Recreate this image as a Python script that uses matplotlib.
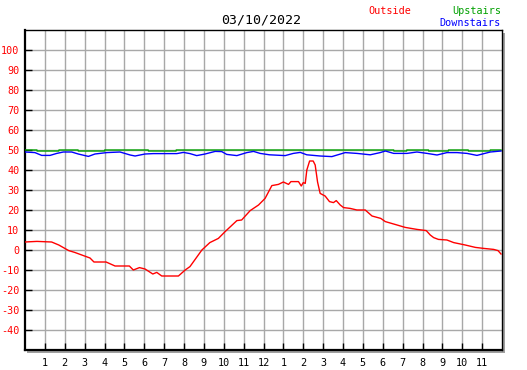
import matplotlib
matplotlib.use("Agg")
import matplotlib.pyplot as plt
from matplotlib.patches import Rectangle

# outside temperature (hour, value)
out_hours = [0.0, 0.6, 1.34, 1.7, 2.2, 2.5, 2.94, 3.27, 3.47, 4.08, 4.53, 5.25, 5.45,
             5.76, 6.04, 6.43, 6.63, 6.88, 7.72, 8.06, 8.3, 8.9, 9.3, 9.73, 10.07,
             10.66, 10.9, 11.33, 11.75, 12.08, 12.42, 12.75, 13.0, 13.26, 13.38,
             13.76, 13.9, 14.0, 14.1, 14.18, 14.32, 14.5, 14.6, 14.72, 14.85, 15.1,
             15.32, 15.52, 15.66, 15.86, 16.03, 16.36, 16.7, 17.12, 17.46, 17.9,
             18.13, 18.72, 19.13, 19.72, 20.19, 20.39, 20.56, 20.8, 21.23, 21.57,
             22.15, 22.66, 23.08, 23.58, 23.8, 23.95]
out_vals = [4, 4.3, 4, 2.5, -0.3, -1.2, -2.8, -4, -6, -6, -8, -8, -10,
            -8.8, -9.5, -12, -11.2, -13, -13, -10, -8.3, 0, 3.7, 5.8, 9.2,
            14.7, 15, 19.7, 22.5, 25.8, 32.2, 32.8, 34, 32.8, 34.2,
            34.2, 32, 33.7, 33.3, 40, 44.5, 44.5, 42.5, 34, 28.3, 27,
            24.2, 23.7, 24.7, 22.5, 21.2, 20.8, 20, 20, 17, 15.8,
            14.2, 12.5, 11.3, 10.3, 9.7, 7.5, 6.2, 5.3, 5, 3.7,
            2.5, 1.3, 0.8, 0.3, -0.3, -2]

# upstairs, almost flat
up_hours = [0.0, 0.6, 0.61, 1.7, 1.71, 2.67, 2.68, 4.0, 4.01, 6.2, 6.21, 7.6, 7.61,
            12.9, 12.91, 18.55, 18.56, 19.2, 19.21, 20.3, 20.31, 21.3, 21.31,
            22.3, 22.31, 23.4, 23.41, 23.95]
up_vals = [50, 50, 49.5, 49.5, 50, 50, 49.5, 49.5, 50, 50, 49.5, 49.5, 50,
           50, 50, 50, 49.5, 49.5, 50, 50, 49.5, 49.5, 50,
           50, 49.5, 49.5, 50, 50]

# downstairs
down_hours = [0.0, 0.5, 0.84, 1.26, 1.6, 1.93, 2.35, 2.68, 3.19, 3.52, 4.11, 4.78,
              5.29, 5.54, 6.04, 6.46, 7.64, 7.97, 8.3, 8.64, 9.06, 9.57, 9.9,
              10.15, 10.66, 11.16, 11.5, 11.83, 12.3, 13.09, 13.5, 13.85, 14.18,
              14.85, 15.44, 16.11, 16.7, 17.37, 17.87, 18.13, 18.55, 19.22, 19.72,
              20.23, 20.73, 21.23, 21.74, 22.24, 22.74, 23.41, 23.95]
down_vals = [49, 48.7, 47.3, 47.3, 48.3, 49, 49, 48, 46.8, 48, 48.7, 49,
             47.5, 47, 48, 48.2, 48.2, 48.8, 48.2, 47.2, 48, 49.3, 49.2,
             47.8, 47.2, 48.7, 49.3, 48.3, 47.6, 47.2, 48.3, 48.8, 47.6,
             47, 46.7, 48.7, 48.3, 47.6, 48.7, 49.5, 48.3, 48.3, 49,
             48.3, 47.5, 48.7, 48.7, 48.3, 47.3, 49, 49.5]

hour_labels = [str(h) for h in range(1, 13)] + [str(h) for h in range(1, 12)]
y_ticks = list(range(-40, 101, 10))

mono = "DejaVu Sans Mono"

fig = plt.figure(figsize=(5.27, 3.70), dpi=100)
ax = fig.add_axes([25 / 527, 1 - 350 / 370, 477 / 527, 320 / 370])

# grey shadow behind the frame
fig.patches.append(Rectangle((27 / 527, 1 - 352.5 / 370), 477.5 / 527, 320 / 370,
                             transform=fig.transFigure, facecolor="#a0a0a0",
                             edgecolor="none", zorder=0))
ax.set_facecolor("white")
ax.set_zorder(1)

ax.plot(up_hours, up_vals, color="#00a000", lw=1.0, zorder=3)
ax.plot(down_hours, down_vals, color="#0000ff", lw=1.0, zorder=4)
ax.plot(out_hours, out_vals, color="#ff0000", lw=1.0, zorder=5)

ax.set_xlim(0, 24)
ax.set_ylim(-50, 110)

ax.set_xticks(range(1, 24))
ax.set_xticklabels(hour_labels, fontfamily=mono, fontsize=7.3)
ax.set_yticks(y_ticks)
ax.set_yticklabels([str(v) for v in y_ticks], fontfamily=mono, fontsize=7.3, color="red")

ax.tick_params(axis="x", direction="in", length=5, width=1, pad=6, colors="black")
ax.tick_params(axis="y", direction="in", length=5, width=1, pad=4, labelcolor="red")
ax.grid(True, color="#a8a8a8", lw=1.0, zorder=1)
ax.set_axisbelow(True)

for side in ["left", "bottom"]:
    ax.spines[side].set_linewidth(1.6)
for side in ["top", "right"]:
    ax.spines[side].set_linewidth(1.0)
for s in ax.spines.values():
    s.set_color("black")

fig.text(261 / 527, 1 - 20 / 370, "03/10/2022", ha="center", va="center",
         fontfamily=mono, fontsize=9.5)
fig.text(390 / 527, 1 - 11 / 370, "Outside", ha="center", va="center",
         fontfamily=mono, fontsize=7.3, color="red")
fig.text(501 / 527, 1 - 11 / 370, "Upstairs", ha="right", va="center",
         fontfamily=mono, fontsize=7.3, color="#00a000")
fig.text(501 / 527, 1 - 23 / 370, "Downstairs", ha="right", va="center",
         fontfamily=mono, fontsize=7.3, color="#0000ff")

fig.savefig("out.png", dpi=100)
